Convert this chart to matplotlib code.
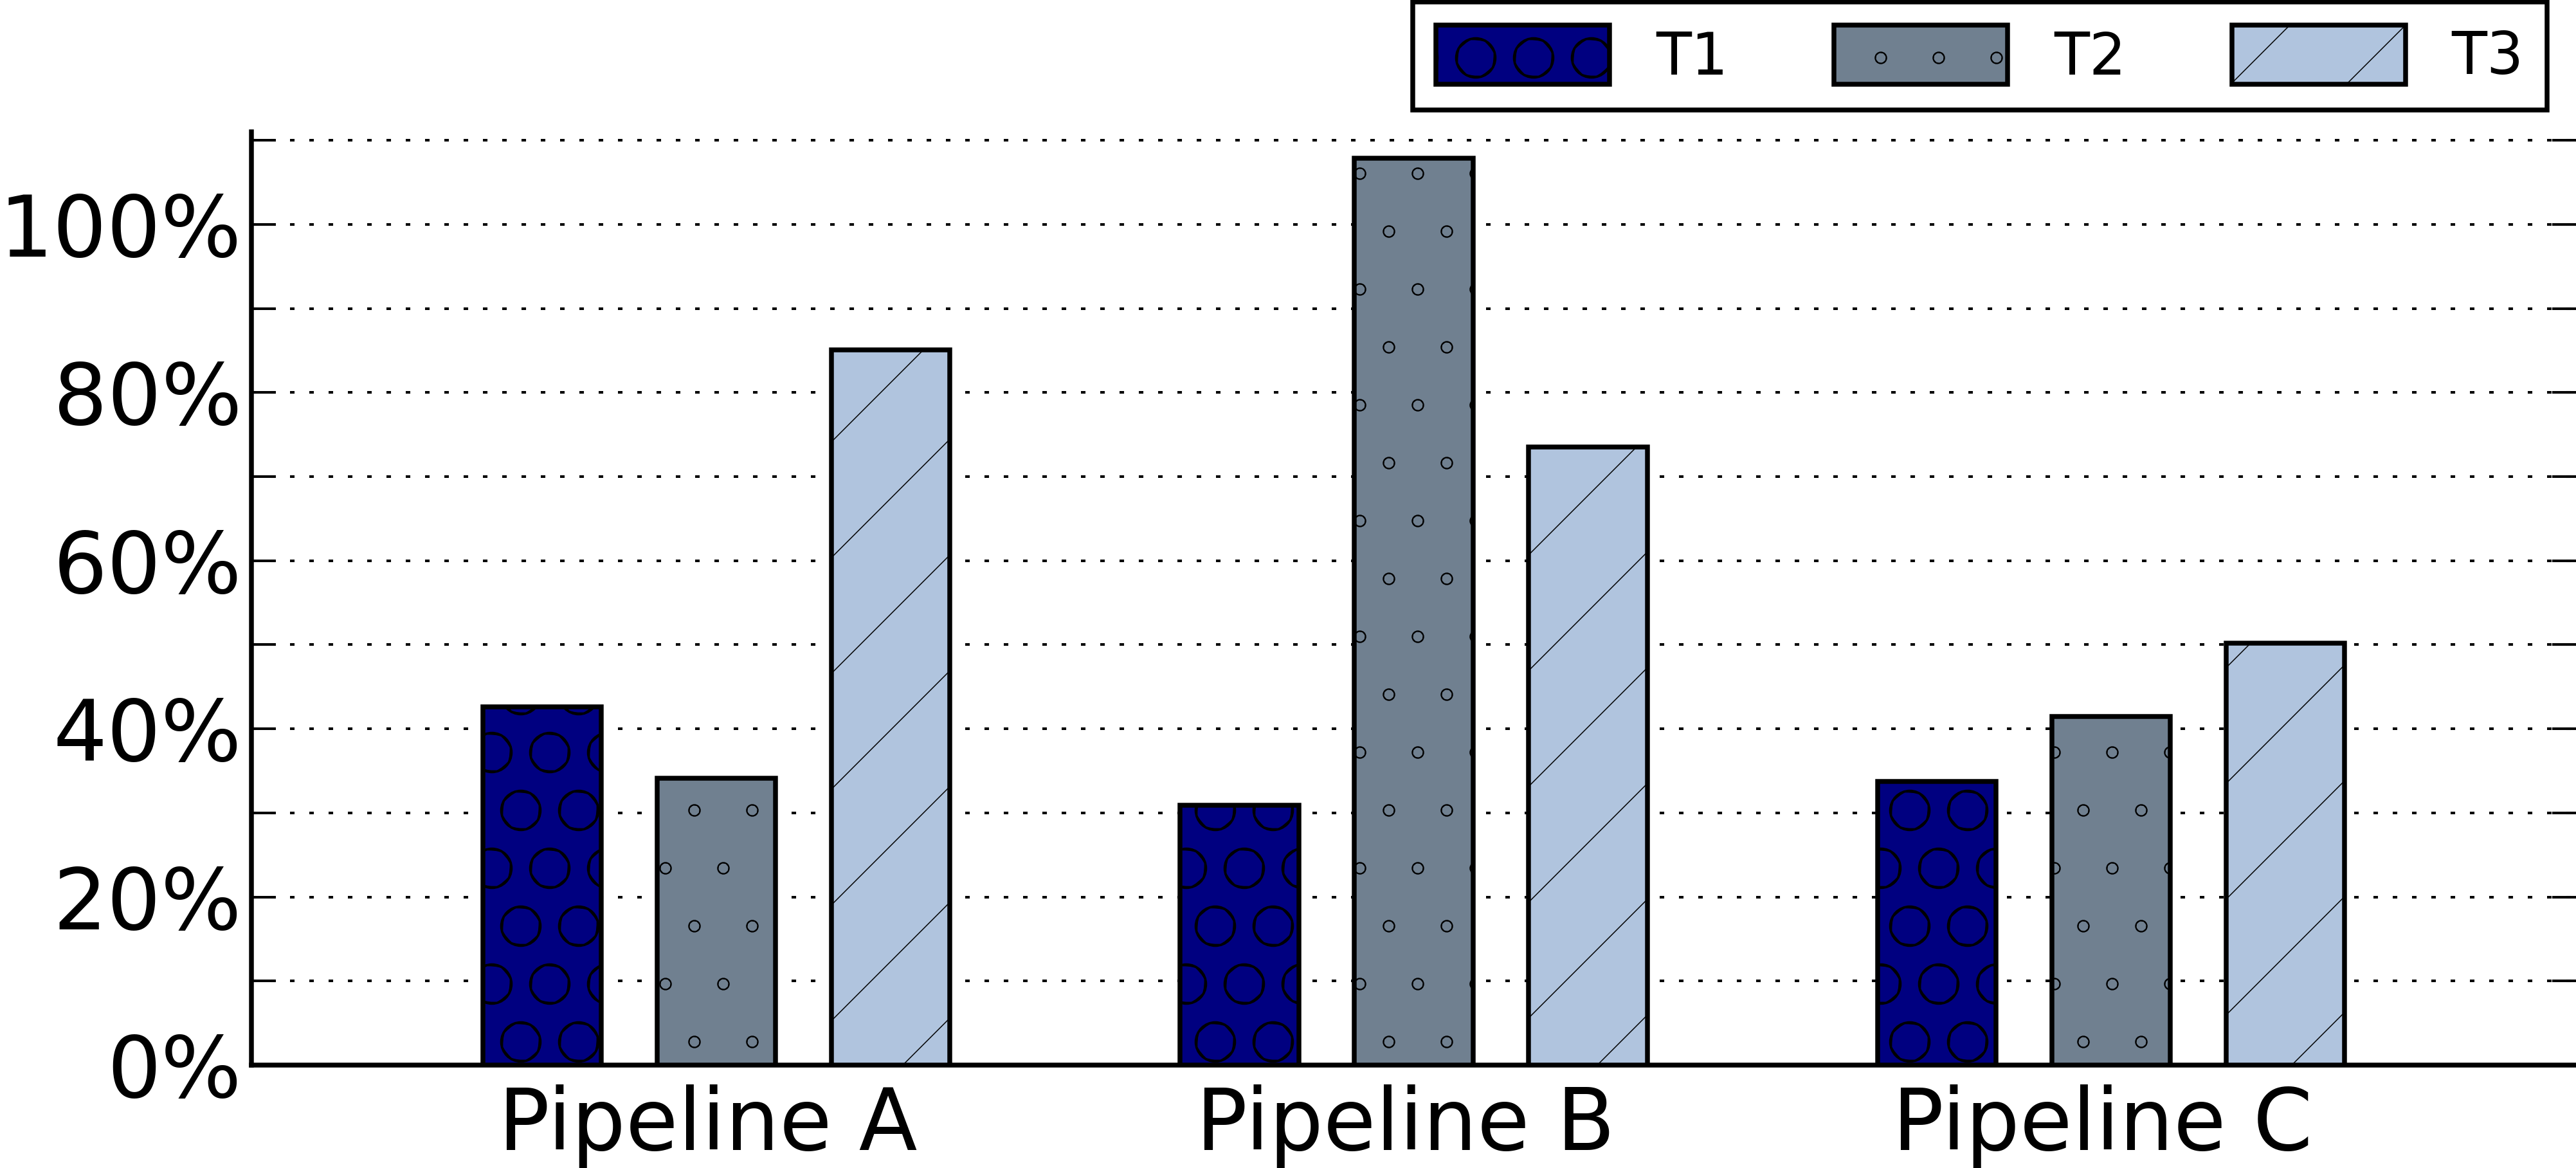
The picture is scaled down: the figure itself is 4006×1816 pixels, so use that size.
import matplotlib
matplotlib.use("Agg")
import matplotlib.pyplot as plt
import matplotlib.hatch as mhatch
from matplotlib.ticker import MultipleLocator, FuncFormatter

# ---- data ----
categories = ["Pipeline A", "Pipeline B", "Pipeline C"]
series_names = ["T1", "T2", "T3"]
t1_values = [42.6, 30.9, 33.7]
t2_values = [34.1, 107.9, 41.5]
t3_values = [85.1, 73.5, 50.2]

# ---- style ----
W, H, DPI = 4006, 1816, 1080
plt.rcParams["font.family"] = ["DejaVu Sans"]
plt.rcParams["hatch.linewidth"] = 0.1
plt.rcParams["lines.scale_dashes"] = False
# small hollow circles for the '.' hatch (as in older renderers)
mhatch.SmallFilledCircles.filled = False

colors = ["#000080", "#708090", "#B0C4DE"]
hatches = ["OO", "..", "//"]
series = [t1_values, t2_values, t3_values]

fig = plt.figure(figsize=(W / DPI, H / DPI), dpi=DPI)
ax = fig.add_axes([391 / W, (H - 1656) / H, (W - 391) / W, (1656 - 205) / H])

width = 0.17
offsets = [-0.25, 0.0, 0.25]
x = list(range(len(categories)))
handles = []
for vals, off, c, h, name in zip(series, offsets, colors, hatches, series_names):
    bars = ax.bar([xi + off for xi in x], vals, width=width, color=c,
                  edgecolor="black", linewidth=0.5, hatch=h, label=name, zorder=3)
    handles.append(bars)

ax.set_xlim(-2 / 3, 8 / 3)
ax.set_ylim(0, 111)
ax.set_xticks([xi - 0.012 for xi in x])
ax.set_xticklabels(categories, fontsize=8.85)
ax.yaxis.set_major_locator(MultipleLocator(10))
ax.yaxis.set_major_formatter(FuncFormatter(
    lambda v, p: f"{int(round(v))}%" if int(round(v)) % 20 == 0 else ""))

ax.set_axisbelow(True)
ax.yaxis.grid(True, color="black", linewidth=0.27, linestyle=(0, (0.47, 1.53)))
ax.xaxis.grid(False)

for s in ["top", "right"]:
    ax.spines[s].set_visible(False)
for s in ["left", "bottom"]:
    ax.spines[s].set_linewidth(0.5)

ax.tick_params(axis="y", which="both", direction="in", length=2.5, width=0.27,
               left=True, right=True, labelsize=8.8, pad=1)
ax.tick_params(axis="x", which="both", length=0, pad=2)

leg = fig.legend(handles, series_names, loc="upper right",
                 bbox_to_anchor=(3961 / W, 1 - 3 / H), ncol=3, fontsize=6,
                 handlelength=3.0, handleheight=1.2, handletextpad=0.8,
                 columnspacing=1.83, borderpad=0.4, borderaxespad=0,
                 fancybox=False, edgecolor="black", framealpha=1)
leg.get_frame().set_linewidth(0.5)

fig.savefig("out.png", dpi=DPI)
